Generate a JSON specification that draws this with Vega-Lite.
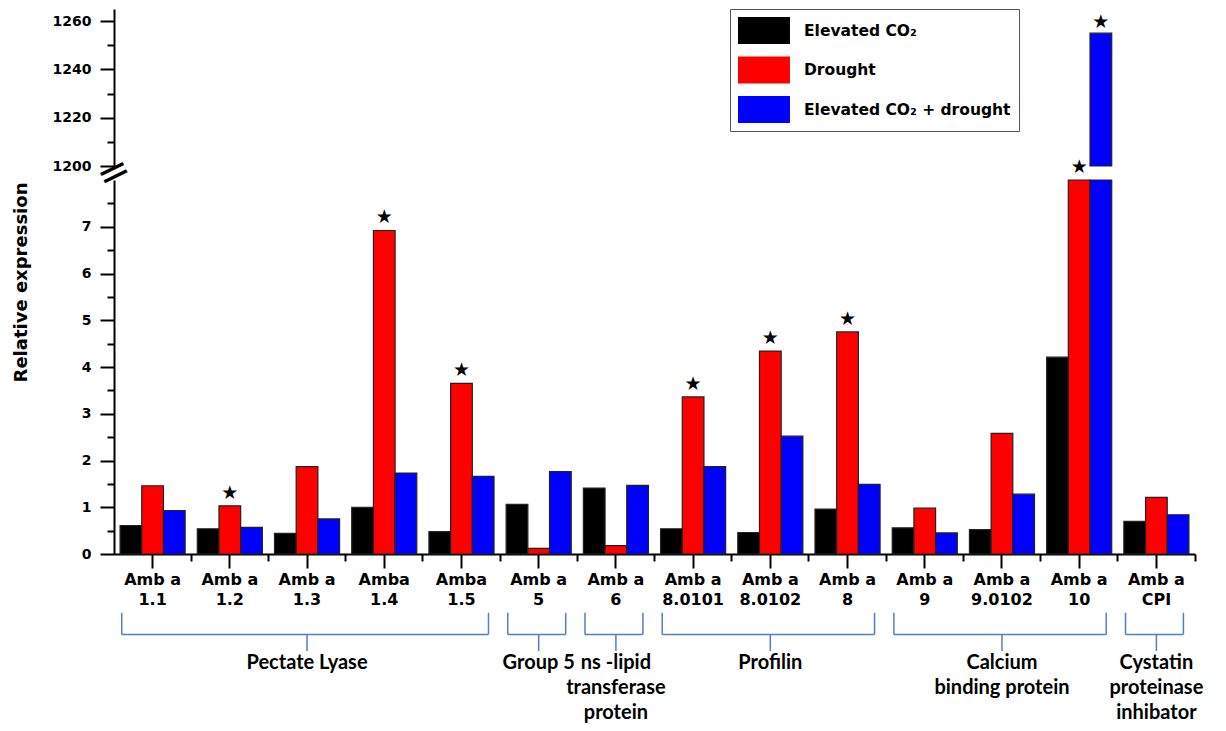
{
  "$schema": "https://vega.github.io/schema/vega-lite/v6.json",
  "padding": {"left": 11, "top": 8, "right": 5, "bottom": 0},
  "bounds": "flush",
  "spacing": 14,
  "config": {
    "view": {"stroke": null},
    "font": "DejaVu Sans",
    "axis": {
      "domainColor": "black", "domainWidth": 2, "tickColor": "black", "tickWidth": 2,
      "labelFont": "DejaVu Sans", "labelFontWeight": "bold", "labelColor": "black", "labelFontSize": 14, "labelPadding": 9,
      "titleFont": "DejaVu Sans", "titleFontWeight": "bold", "titleColor": "black", "grid": false
    }
  },
  "datasets": {
    "expr": [
      {"gene": "Amb a 1.1", "treatment": "Elevated CO₂", "value": 0.61, "sig": false},
      {"gene": "Amb a 1.1", "treatment": "Drought", "value": 1.46, "sig": false},
      {"gene": "Amb a 1.1", "treatment": "Elevated CO₂ + drought", "value": 0.93, "sig": false},
      {"gene": "Amb a 1.2", "treatment": "Elevated CO₂", "value": 0.54, "sig": false},
      {"gene": "Amb a 1.2", "treatment": "Drought", "value": 1.03, "sig": true},
      {"gene": "Amb a 1.2", "treatment": "Elevated CO₂ + drought", "value": 0.57, "sig": false},
      {"gene": "Amb a 1.3", "treatment": "Elevated CO₂", "value": 0.44, "sig": false},
      {"gene": "Amb a 1.3", "treatment": "Drought", "value": 1.87, "sig": false},
      {"gene": "Amb a 1.3", "treatment": "Elevated CO₂ + drought", "value": 0.75, "sig": false},
      {"gene": "Amba 1.4", "treatment": "Elevated CO₂", "value": 1.0, "sig": false},
      {"gene": "Amba 1.4", "treatment": "Drought", "value": 6.92, "sig": true},
      {"gene": "Amba 1.4", "treatment": "Elevated CO₂ + drought", "value": 1.73, "sig": false},
      {"gene": "Amba 1.5", "treatment": "Elevated CO₂", "value": 0.48, "sig": false},
      {"gene": "Amba 1.5", "treatment": "Drought", "value": 3.65, "sig": true},
      {"gene": "Amba 1.5", "treatment": "Elevated CO₂ + drought", "value": 1.66, "sig": false},
      {"gene": "Amb a 5", "treatment": "Elevated CO₂", "value": 1.06, "sig": false},
      {"gene": "Amb a 5", "treatment": "Drought", "value": 0.12, "sig": false},
      {"gene": "Amb a 5", "treatment": "Elevated CO₂ + drought", "value": 1.76, "sig": false},
      {"gene": "Amb a 6", "treatment": "Elevated CO₂", "value": 1.41, "sig": false},
      {"gene": "Amb a 6", "treatment": "Drought", "value": 0.18, "sig": false},
      {"gene": "Amb a 6", "treatment": "Elevated CO₂ + drought", "value": 1.47, "sig": false},
      {"gene": "Amb a 8.0101", "treatment": "Elevated CO₂", "value": 0.54, "sig": false},
      {"gene": "Amb a 8.0101", "treatment": "Drought", "value": 3.36, "sig": true},
      {"gene": "Amb a 8.0101", "treatment": "Elevated CO₂ + drought", "value": 1.87, "sig": false},
      {"gene": "Amb a 8.0102", "treatment": "Elevated CO₂", "value": 0.46, "sig": false},
      {"gene": "Amb a 8.0102", "treatment": "Drought", "value": 4.34, "sig": true},
      {"gene": "Amb a 8.0102", "treatment": "Elevated CO₂ + drought", "value": 2.52, "sig": false},
      {"gene": "Amb a 8", "treatment": "Elevated CO₂", "value": 0.96, "sig": false},
      {"gene": "Amb a 8", "treatment": "Drought", "value": 4.75, "sig": true},
      {"gene": "Amb a 8", "treatment": "Elevated CO₂ + drought", "value": 1.49, "sig": false},
      {"gene": "Amb a 9", "treatment": "Elevated CO₂", "value": 0.56, "sig": false},
      {"gene": "Amb a 9", "treatment": "Drought", "value": 0.98, "sig": false},
      {"gene": "Amb a 9", "treatment": "Elevated CO₂ + drought", "value": 0.45, "sig": false},
      {"gene": "Amb a 9.0102", "treatment": "Elevated CO₂", "value": 0.52, "sig": false},
      {"gene": "Amb a 9.0102", "treatment": "Drought", "value": 2.58, "sig": false},
      {"gene": "Amb a 9.0102", "treatment": "Elevated CO₂ + drought", "value": 1.28, "sig": false},
      {"gene": "Amb a 10", "treatment": "Elevated CO₂", "value": 4.21, "sig": false},
      {"gene": "Amb a 10", "treatment": "Drought", "value": 1200, "sig": true},
      {"gene": "Amb a 10", "treatment": "Elevated CO₂ + drought", "value": 1255, "sig": true},
      {"gene": "Amb a CPI", "treatment": "Elevated CO₂", "value": 0.70, "sig": false},
      {"gene": "Amb a CPI", "treatment": "Drought", "value": 1.21, "sig": false},
      {"gene": "Amb a CPI", "treatment": "Elevated CO₂ + drought", "value": 0.84, "sig": false}
    ],
    "groups": [
      {"category": "Pectate Lyase", "start": "Amb a 1.1", "end": "Amba 1.5", "center": "Amb a 1.3", "label": "Pectate Lyase"},
      {"category": "Group 5", "start": "Amb a 5", "end": "Amb a 5", "center": "Amb a 5", "label": "Group 5"},
      {"category": "ns-lipid transferase protein", "start": "Amb a 6", "end": "Amb a 6", "center": "Amb a 6", "label": "ns -lipid\ntransferase\nprotein"},
      {"category": "Profilin", "start": "Amb a 8.0101", "end": "Amb a 8", "center": "Amb a 8.0102", "label": "Profilin"},
      {"category": "Calcium binding protein", "start": "Amb a 9", "end": "Amb a 10", "center": "Amb a 9.0102", "label": "Calcium\nbinding protein"},
      {"category": "Cystatin proteinase inhibator", "start": "Amb a CPI", "end": "Amb a CPI", "center": "Amb a CPI", "label": "Cystatin\nproteinase\ninhibator"}
    ]
  },
  "resolve": {"scale": {"x": "independent", "y": "independent", "xOffset": "independent", "color": "shared"}},
  "vconcat": [
    {
      "width": 1081,
      "height": 157,
      "layer": [
        {
          "data": {"name": "expr"},
          "transform": [{"filter": "datum.value > 1200"}],
          "mark": {"type": "bar", "stroke": "#222222", "strokeWidth": 1.2},
          "encoding": {
            "x": {"field": "gene", "type": "nominal", "sort": null,
              "scale": {"domain": ["Amb a 1.1", "Amb a 1.2", "Amb a 1.3", "Amba 1.4", "Amba 1.5", "Amb a 5", "Amb a 6", "Amb a 8.0101", "Amb a 8.0102", "Amb a 8", "Amb a 9", "Amb a 9.0102", "Amb a 10", "Amb a CPI"], "paddingInner": 0, "paddingOuter": 0},
              "axis": null},
            "xOffset": {"field": "treatment", "type": "nominal", "scale": {"domain": ["Elevated CO₂", "Drought", "Elevated CO₂ + drought"], "paddingInner": 0, "paddingOuter": 0.28}},
            "y": {"field": "value", "type": "quantitative", "scale": {"domain": [1200, 1265], "nice": false, "zero": false},
              "axis": {"orient": "left", "values": [1200, 1220, 1240, 1260], "format": "d", "tickSize": 14, "title": null}},
            "y2": {"datum": 1200},
            "color": {"field": "treatment", "type": "nominal",
              "scale": {"domain": ["Elevated CO₂", "Drought", "Elevated CO₂ + drought"], "range": ["#000000", "#ff0000", "#0000ff"]},
              "legend": {"title": null, "orient": "none", "legendX": 616, "legendY": 0, "direction": "vertical",
                "symbolType": "M-1,-1H2.85V1H-1Z", "symbolSize": 729, "symbolStrokeWidth": 0, "symbolOpacity": 1,
                "labelFont": "DejaVu Sans", "labelFontSize": 15.5, "labelFontWeight": "bold", "labelColor": "black",
                "labelOffset": 39, "rowPadding": 12.5, "padding": 8, "strokeColor": "#555555", "fillColor": "white", "labelLimit": 400,
                "encode": {"legend": {"update": {"strokeWidth": {"value": 1.5}}}}}}
          }
        },
        {
          "data": {"name": "expr"},
          "transform": [{"filter": "datum.sig && datum.value > 1200"}],
          "mark": {"type": "text", "text": "★", "fontSize": 19, "dy": -11, "baseline": "middle", "color": "black", "font": "DejaVu Sans"},
          "encoding": {
            "x": {"field": "gene", "type": "nominal", "axis": null},
            "xOffset": {"field": "treatment", "type": "nominal"},
            "y": {"field": "value", "type": "quantitative",
              "axis": {"orient": "left", "values": [1210, 1230, 1250], "tickSize": 7, "labels": false, "domain": false, "title": null}}
          }
        },
        {
          "data": {"values": [{}]},
          "mark": {"type": "text", "text": "=", "fontSize": 40, "angle": -26, "baseline": "middle", "align": "center", "color": "black", "font": "DejaVu Sans"},
          "encoding": {
            "x": {"datum": "Amb a 1.1", "type": "nominal", "bandPosition": 0, "axis": null},
            "y": {"datum": 1197, "type": "quantitative", "axis": null}
          }
        }
      ],
      "resolve": {"axis": {"x": "independent", "y": "independent"}}
    },
    {
      "width": 1081,
      "height": 374,
      "layer": [
        {
          "data": {"name": "expr"},
          "mark": {"type": "bar", "stroke": "#222222", "strokeWidth": 1.2},
          "encoding": {
            "x": {"field": "gene", "type": "nominal", "sort": null,
              "scale": {"domain": ["Amb a 1.1", "Amb a 1.2", "Amb a 1.3", "Amba 1.4", "Amba 1.5", "Amb a 5", "Amb a 6", "Amb a 8.0101", "Amb a 8.0102", "Amb a 8", "Amb a 9", "Amb a 9.0102", "Amb a 10", "Amb a CPI"], "paddingInner": 0, "paddingOuter": 0},
              "axis": {"orient": "bottom", "title": null, "tickSize": 14, "labelAngle": 0, "labelFontSize": 16, "labelPadding": 3, "labelLineHeight": 20, "labelOverlap": false, "labelBound": false,
                "labelExpr": "[slice(datum.value, 0, lastindexof(datum.value, ' ')), slice(datum.value, lastindexof(datum.value, ' ') + 1)]"}},
            "xOffset": {"field": "treatment", "type": "nominal", "scale": {"domain": ["Elevated CO₂", "Drought", "Elevated CO₂ + drought"], "paddingInner": 0, "paddingOuter": 0.28}},
            "y": {"field": "value", "type": "quantitative", "scale": {"domain": [0, 8], "nice": false, "clamp": true},
              "axis": {"orient": "left", "values": [0, 1, 2, 3, 4, 5, 6, 7], "tickSize": 14, "title": "Relative expression", "titleFontSize": 18, "titleX": -84, "titleY": 102}},
            "color": {"field": "treatment", "type": "nominal", "legend": null}
          }
        },
        {
          "data": {"name": "expr"},
          "transform": [{"filter": "datum.sig && datum.value <= 1200"}],
          "mark": {"type": "text", "text": "★", "fontSize": 19, "dy": -13, "baseline": "middle", "color": "black", "font": "DejaVu Sans"},
          "encoding": {
            "x": {"field": "gene", "type": "nominal",
              "axis": {"orient": "bottom", "bandPosition": 1, "tickSize": 7, "labels": false, "domain": false, "title": null}},
            "xOffset": {"field": "treatment", "type": "nominal"},
            "y": {"field": "value", "type": "quantitative",
              "axis": {"orient": "left", "values": [0.5, 1.5, 2.5, 3.5, 4.5, 5.5, 6.5, 7.5], "tickSize": 7, "labels": false, "domain": false, "title": null}}
          }
        }
      ],
      "resolve": {"axis": {"x": "independent", "y": "independent"}}
    },
    {
      "width": 1081,
      "height": 83,
      "data": {"name": "groups"},
      "layer": [
        {
          "mark": {"type": "rule", "color": "#4F81BD", "strokeWidth": 1.5},
          "encoding": {
            "x": {"field": "start", "type": "nominal", "bandPosition": 0.1,
              "scale": {"domain": ["Amb a 1.1", "Amb a 1.2", "Amb a 1.3", "Amba 1.4", "Amba 1.5", "Amb a 5", "Amb a 6", "Amb a 8.0101", "Amb a 8.0102", "Amb a 8", "Amb a 9", "Amb a 9.0102", "Amb a 10", "Amb a CPI"], "paddingInner": 0, "paddingOuter": 0},
              "axis": null},
            "x2": {"field": "end", "bandPosition": 0.85},
            "y": {"datum": 0.2, "type": "quantitative", "scale": {"domain": [0, 1], "nice": false}, "axis": null}
          }
        },
        {
          "mark": {"type": "rule", "color": "#4F81BD", "strokeWidth": 1.5},
          "encoding": {
            "x": {"field": "start", "type": "nominal", "bandPosition": 0.1, "axis": null},
            "y": {"datum": 0.46, "type": "quantitative", "axis": null},
            "y2": {"datum": 0.2}
          }
        },
        {
          "mark": {"type": "rule", "color": "#4F81BD", "strokeWidth": 1.5},
          "encoding": {
            "x": {"field": "end", "type": "nominal", "bandPosition": 0.85, "axis": null},
            "y": {"datum": 0.46, "type": "quantitative", "axis": null},
            "y2": {"datum": 0.2}
          }
        },
        {
          "mark": {"type": "rule", "color": "#4F81BD", "strokeWidth": 1.5},
          "encoding": {
            "x": {"field": "center", "type": "nominal", "bandPosition": 0.5, "axis": null},
            "y": {"datum": 0.2, "type": "quantitative", "axis": null},
            "y2": {"datum": 0}
          }
        },
        {
          "mark": {"type": "text", "font": "Lato", "fontWeight": "bold", "fontSize": 20, "lineHeight": 25, "lineBreak": "\n", "baseline": "top", "align": "center", "dy": 2, "color": "black"},
          "encoding": {
            "x": {"field": "center", "type": "nominal", "bandPosition": 0.5, "axis": null},
            "y": {"datum": 0, "type": "quantitative", "axis": null},
            "text": {"field": "label", "type": "nominal"}
          }
        }
      ]
    }
  ]
}
